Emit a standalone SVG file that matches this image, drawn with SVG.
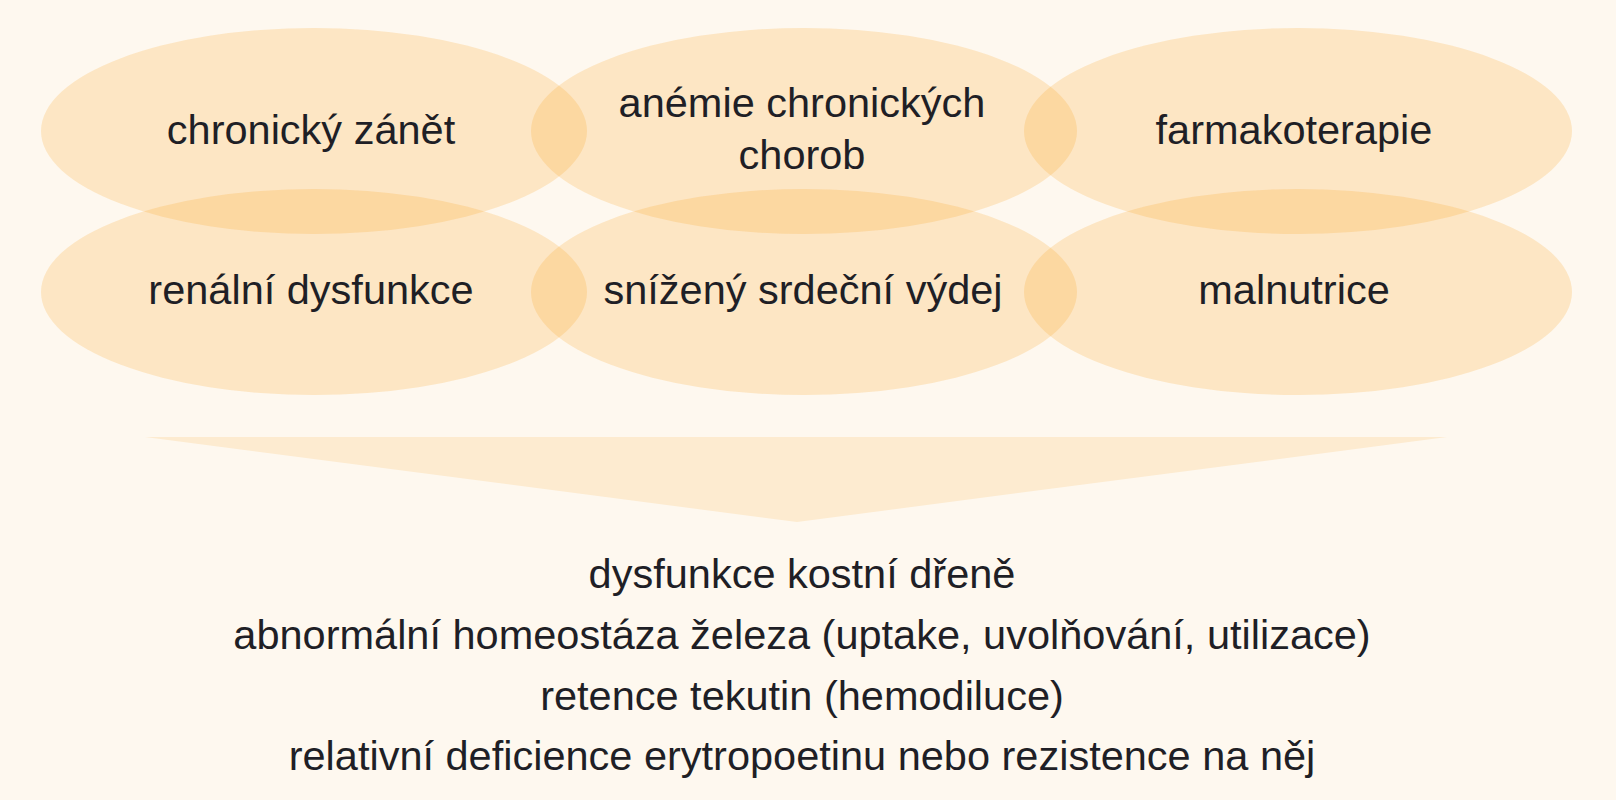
<svg xmlns="http://www.w3.org/2000/svg" width="1616" height="800" viewBox="0 0 1616 800">
<style>
.ell{fill:#f99e18;fill-opacity:0.2}
.t{font-family:"Liberation Sans",Arial,sans-serif;font-size:41.5px;fill:#1f1f26;text-anchor:middle}
</style>
<rect width="1616" height="800" fill="#fef8ef"/>
<g id="n-chronicky-zanet"><ellipse class="ell" cx="314" cy="131" rx="273" ry="103"/><text class="t" x="311" y="144">chronický zánět</text></g>
<g id="n-anemie"><ellipse class="ell" cx="804" cy="131" rx="273" ry="103"/><text class="t" x="802" y="117">anémie chronických</text><text class="t" x="802" y="169">chorob</text></g>
<g id="n-farmakoterapie"><ellipse class="ell" cx="1298" cy="131" rx="274" ry="103"/><text class="t" x="1294" y="144">farmakoterapie</text></g>
<g id="n-renalni"><ellipse class="ell" cx="314" cy="292" rx="273" ry="103"/><text class="t" x="311" y="304">renální dysfunkce</text></g>
<g id="n-srdecni"><ellipse class="ell" cx="804" cy="292" rx="273" ry="103"/><text class="t" x="803" y="304">snížený srdeční výdej</text></g>
<g id="n-malnutrice"><ellipse class="ell" cx="1298" cy="292" rx="274" ry="103"/><text class="t" x="1294" y="304">malnutrice</text></g>
<g id="connectors"><polygon points="145,437 1447,437 797,522" fill="#fdebd0"/></g>
<g id="n-result">
<text class="t" x="802" y="588">dysfunkce kostní dřeně</text>
<text class="t" x="802" y="649">abnormální homeostáza železa (uptake, uvolňování, utilizace)</text>
<text class="t" x="802" y="710">retence tekutin (hemodiluce)</text>
<text class="t" x="802" y="770">relativní deficience erytropoetinu nebo rezistence na něj</text>
</g>
</svg>
